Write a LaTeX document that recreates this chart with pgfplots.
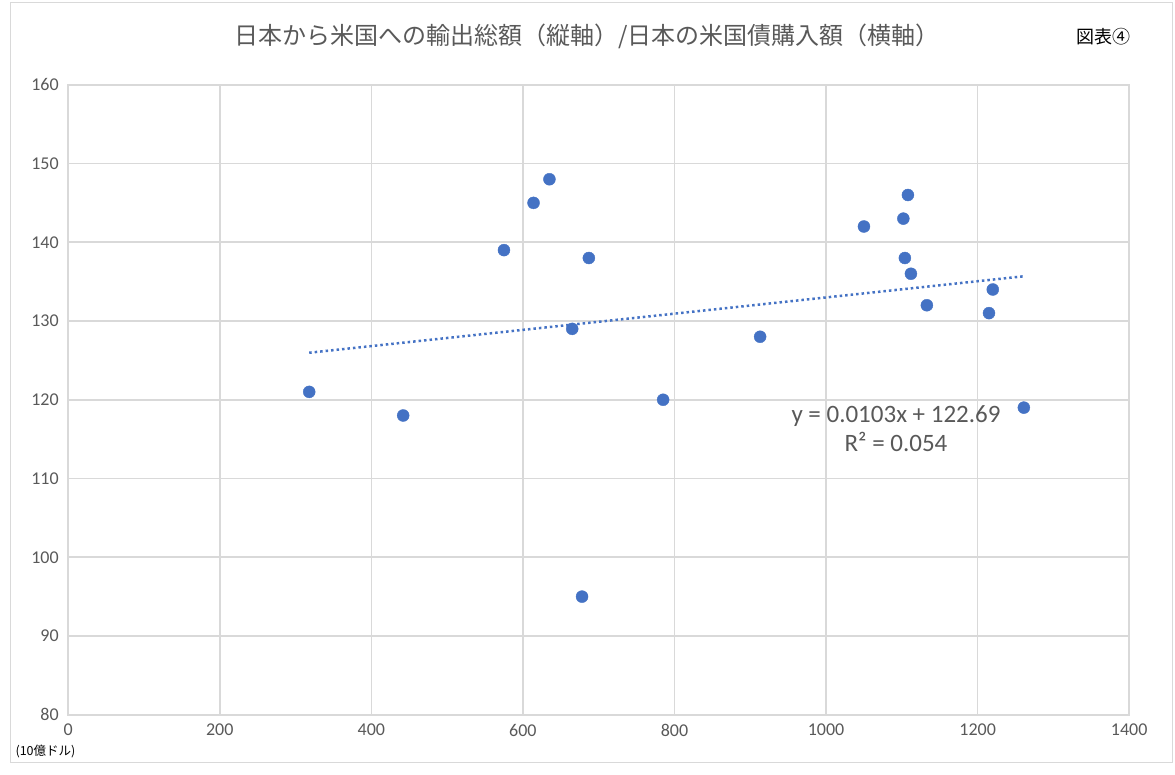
\documentclass[border=0pt]{standalone}
\usepackage{pgfplots}
\pgfplotsset{compat=1.18}
\usepackage{fontspec}
\setmainfont{Carlito}
\newfontfamily\jp{Noto Sans CJK JP}
\definecolor{txt}{HTML}{595959}
\definecolor{grd}{HTML}{D9D9D9}
\definecolor{blu}{HTML}{4472C4}
\pgfplotstableread{
x y
318 121
442 118
575 139
614 145
635 148
665 129
687 138
678 95
785 120
913 128
1050 142
1102 143
1108 146
1104 138
1112 136
1133 132
1215 131
1220 134
1261 119
}\pts
\begin{document}
\begin{tikzpicture}[x=1pt,y=1pt]
\path[use as bounding box] (0,0) rectangle (1175,775);
\draw[grd, line width=0.8pt] (10,13) rectangle (1172.5,773);
\begin{axis}[
  at={(90,76.5)}, anchor=south west,
  scale only axis, width=1061pt, height=630pt,
  xmin=0, xmax=1400, ymin=80, ymax=160,
  xtick distance=200, ytick distance=10,
  grid=major,
  major grid style={grd, line width=1.6pt},
  axis line style={grd, line width=1.6pt},
  tick style={draw=none},
  ticklabel style={font=\fontsize{18}{18}\selectfont, text=txt},
  /pgf/number format/assume math mode=true,
  /pgf/number format/1000 sep={},
  xticklabel style={yshift=-6pt},
  yticklabel style={xshift=-6pt},
  clip=false,
]
\addplot[only marks, mark=*, mark size=6pt, mark options={draw=blu, fill=blu}] table[x=x,y=y] {\pts};
\addplot[blu, line width=2.5pt, dash pattern=on 2.5pt off 3pt] coordinates {(318,125.97) (1261,135.68)};
\end{axis}
\node[text=txt, font=\jp\fontsize{24}{24}\selectfont] at (587,739) {日本から米国への輸出総額（縦軸）/日本の米国債購入額（横軸）};
\node[text=black, font=\jp\fontsize{18}{18}\selectfont] at (1103,738) {図表④};
\node[text=txt, font=\fontsize{25}{29}\selectfont, align=center] at (896,346) {y = 0.0103x + 122.69\\R² = 0.054};
\node[text=black, font=\jp\fontsize{12.5}{12.5}\selectfont, anchor=west] at (12,24) {(10億ドル)};
\end{tikzpicture}
\end{document}
